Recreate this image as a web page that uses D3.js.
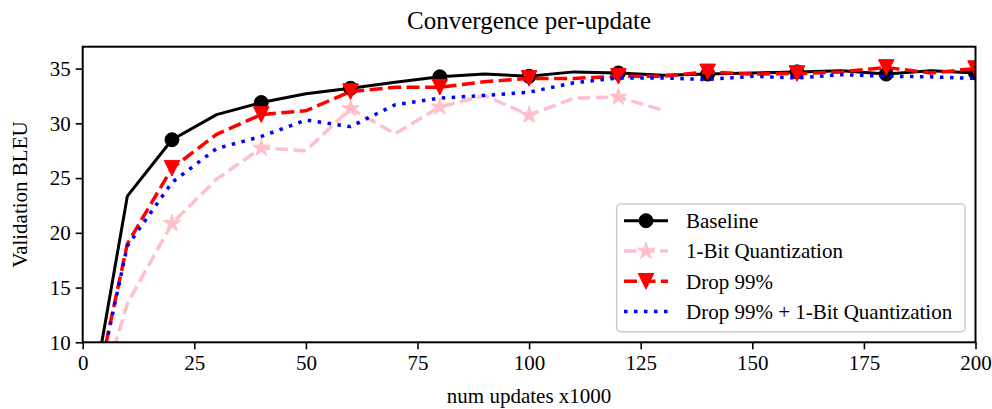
<!DOCTYPE html>
<html><head><meta charset="utf-8">
<script src="https://cdn.jsdelivr.net/npm/d3@7/dist/d3.min.js"></script>
<style>
html,body{margin:0;padding:0;background:#fff;}
svg text{font-family:"Liberation Serif","DejaVu Serif",serif;fill:#000;}
</style></head>
<body><svg id="c" width="992" height="409"></svg>
<script>
const xs = [0,10,20,30,40,50,60,70,80,90,100,110,120,130,140,150,160,170,180,190,200];
const baseline = [0,23.35,28.5,30.8,31.9,32.7,33.2,33.75,34.25,34.5,34.3,34.7,34.6,34.4,34.5,34.6,34.7,34.8,34.5,34.8,34.6];
const quant1bit = [0,13.55,20.85,24.9,27.75,27.5,31.35,29.05,31.5,32.55,30.75,32.3,32.4,31.2];
const drop99 = [0,19.0,25.9,29.0,30.8,31.15,32.9,33.3,33.3,33.8,34.1,34.1,34.3,34.3,34.7,34.5,34.55,34.7,35.1,34.6,35.0];
const dropQuant = [0,18.8,24.6,27.7,28.8,30.3,29.7,31.7,32.3,32.55,32.85,33.7,34.15,34.15,34.0,34.3,34.15,34.45,34.3,34.25,34.1];
const xTicks = [0,25,50,75,100,125,150,175,200];
const yTicks = [10,15,20,25,30,35];
const seriesNames = ["Baseline","1-Bit Quantization","Drop 99%","Drop 99% + 1-Bit Quantization"];

const L=82.7, R=975.5, T=46.7, B=342.3;
const svg = d3.select("#c");
const x = d3.scaleLinear().domain([0,200]).range([L,R]);
const y = d3.scaleLinear().domain([10,37]).range([B,T]);

svg.append("defs").append("clipPath").attr("id","clip")
  .append("rect").attr("x",L).attr("y",T).attr("width",R-L).attr("height",B-T);

const tri = h => `M${-h},${-h}L${h},${-h}L0,${h}Z`;
const star = d3.symbol().type(d3.symbolStar).size(95)();
const circ = d3.symbol().type(d3.symbolCircle).size(Math.PI*49)();

const series = [
  {name:seriesNames[0], vals:baseline, color:"#000", w:3, dash:null, marker:circ},
  {name:seriesNames[1], vals:quant1bit, color:"#ffc0cb", w:3.5, dash:"12.5,5.5", marker:star},
  {name:seriesNames[2], vals:drop99, color:"#ff0000", w:3.5, dash:"13,5.5", marker:tri(7.8)},
  {name:seriesNames[3], vals:dropQuant, color:"#0000ff", w:3.5, dash:"3.5,6.5", marker:null}
];

const plot = svg.append("g").attr("clip-path","url(#clip)");
const line = d3.line().x(d=>x(d[0])).y(d=>y(d[1]));
series.forEach(s=>{
  const pts = s.vals.map((v,i)=>[xs[i],v]);
  plot.append("path").attr("d",line(pts)).attr("fill","none")
    .attr("stroke",s.color).attr("stroke-width",s.w)
    .attr("stroke-dasharray",s.dash).attr("stroke-linejoin","round");
  if(s.marker){
    plot.selectAll(null).data(pts.filter((d,i)=>i%2===0)).enter().append("path")
      .attr("d",s.marker).attr("transform",d=>`translate(${x(d[0])},${y(d[1])})`)
      .attr("fill",s.color).attr("stroke",s.color).attr("stroke-width",1);
  }
});

// axes
const xAxis = svg.append("g").attr("transform",`translate(0,${B})`)
  .call(d3.axisBottom(x).tickValues(xTicks).tickSize(7).tickPadding(6).tickFormat(d3.format("d")));
const yAxis = svg.append("g").attr("transform",`translate(${L},0)`)
  .call(d3.axisLeft(y).tickValues(yTicks).tickSize(7).tickPadding(5).tickFormat(d3.format("d")));
[xAxis,yAxis].forEach(a=>{
  a.select(".domain").remove();
  a.selectAll(".tick line").attr("stroke","#000").attr("stroke-width",1.6);
  a.selectAll(".tick text").attr("font-size",21).attr("font-family",null).attr("fill","#000");
});
svg.append("rect").attr("x",L).attr("y",T).attr("width",R-L).attr("height",B-T)
  .attr("fill","none").attr("stroke","#000").attr("stroke-width",2);

// labels
svg.append("text").attr("x",(L+R)/2).attr("y",29).attr("text-anchor","middle")
  .attr("font-size",25).text("Convergence per-update");
svg.append("text").attr("x",(L+R)/2).attr("y",403).attr("text-anchor","middle")
  .attr("font-size",21).text("num updates x1000");
svg.append("text").attr("transform",`translate(27,${(T+B)/2}) rotate(-90)`)
  .attr("text-anchor","middle").attr("font-size",21).text("Validation BLEU");

// legend
const lg = svg.append("g");
lg.append("rect").attr("x",616.7).attr("y",204).attr("width",348.3).attr("height",127.7)
  .attr("rx",4).attr("fill","#fff").attr("fill-opacity",0.8)
  .attr("stroke","#cccccc").attr("stroke-width",1.5);
series.forEach((s,i)=>{
  const yy = 220.7 + i*30.3;
  lg.append("line").attr("x1",624).attr("x2",668).attr("y1",yy).attr("y2",yy)
    .attr("stroke",s.color).attr("stroke-width",s.w).attr("stroke-dasharray",s.dash);
  if(s.marker) lg.append("path").attr("d",s.marker).attr("transform",`translate(646,${yy})`)
    .attr("fill",s.color).attr("stroke",s.color).attr("stroke-width",1);
  lg.append("text").attr("x",686).attr("y",yy).attr("dy","0.35em")
    .attr("font-size",21).text(s.name);
});
</script></body></html>
